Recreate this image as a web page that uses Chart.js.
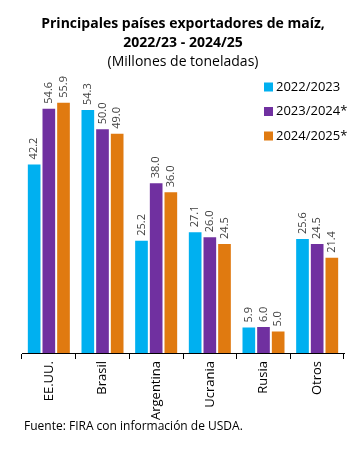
<!DOCTYPE html>
<html>
<head>
<meta charset="utf-8">
<script src="https://cdn.jsdelivr.net/npm/chart.js@4/dist/chart.umd.min.js"></script>
<style>
  html, body { margin: 0; padding: 0; background: #fff; }
  #wrap { position: relative; width: 350px; height: 449px; }
</style>
</head>
<body>
<div id="wrap"><canvas id="chart"></canvas></div>
<script>
const categories = ['EE.UU.', 'Brasil', 'Argentina', 'Ucrania', 'Rusia', 'Otros'];
const seriesNames = ['2022/2023', '2023/2024*', '2024/2025*'];
const values2223 = [42.2, 54.3, 25.2, 27.1, 5.9, 25.6];
const values2324 = [54.6, 50.0, 38.0, 26.0, 6.0, 24.5];
const values2425 = [55.9, 49.0, 36.0, 24.5, 5.0, 21.4];
const colors = ['#00B0F0', '#7030A0', '#E07A10'];
const FONT = "'Open Sans', 'Noto Sans', sans-serif";

// rotated value labels above each bar
const barLabels = {
  id: 'barLabels',
  afterDatasetsDraw(chart) {
    const ctx = chart.ctx;
    ctx.save();
    ctx.font = '11px ' + FONT;
    ctx.fillStyle = '#404040';
    ctx.textAlign = 'left';
    ctx.textBaseline = 'middle';
    chart.data.datasets.forEach((ds, i) => {
      chart.getDatasetMeta(i).data.forEach((bar, j) => {
        ctx.save();
        ctx.translate(bar.x, bar.y - 4);
        ctx.rotate(-Math.PI / 2);
        ctx.fillText(ds.data[j].toFixed(1), 0, 0);
        ctx.restore();
      });
    });
    ctx.restore();
  }
};

// legend on the right + footnote
const extras = {
  id: 'extras',
  afterDraw(chart) {
    const ctx = chart.ctx;
    ctx.save();
    ctx.font = '13px ' + FONT;
    ctx.textBaseline = 'middle';
    ctx.textAlign = 'left';
    seriesNames.forEach((name, i) => {
      const y = 87 + i * 24.5;
      ctx.fillStyle = colors[i];
      ctx.fillRect(264, y - 4.5, 9, 9);
      ctx.fillStyle = '#000';
      ctx.fillText(name, 276, y);
    });
    ctx.font = '12px ' + FONT;
    ctx.fillText('Fuente: FIRA con información de USDA.', 24, 427);
    ctx.restore();
  }
};

new Chart(document.getElementById('chart'), {
  type: 'bar',
  data: {
    labels: categories,
    datasets: [
      { label: seriesNames[0], data: values2223, backgroundColor: colors[0] },
      { label: seriesNames[1], data: values2324, backgroundColor: colors[1] },
      { label: seriesNames[2], data: values2425, backgroundColor: colors[2] }
    ].map(d => Object.assign(d, {
      borderColor: '#ffffff', borderWidth: 1, borderSkipped: 'bottom',
      categoryPercentage: 0.82, barPercentage: 1.0
    }))
  },
  options: {
    responsive: true,
    maintainAspectRatio: false,
    animation: false,
    layout: { padding: { left: 22, right: 6, top: 0, bottom: 27 } },
    plugins: {
      legend: { display: false },
      tooltip: { enabled: false },
      title: {
        display: true,
        text: ['Principales países exportadores de maíz,', '2022/23 - 2024/25'],
        color: '#000',
        font: { family: FONT, size: 14, weight: 'bold', lineHeight: 1.4 },
        padding: { top: 14, bottom: 0 }
      },
      subtitle: {
        display: true,
        text: '(Millones de toneladas)',
        color: '#000',
        font: { family: FONT, size: 14, lineHeight: 1.3 },
        padding: { top: 0, bottom: 12 }
      }
    },
    scales: {
      x: {
        offset: true,
        grid: { display: true, drawOnChartArea: false, color: '#000', tickLength: 6, offset: true },
        border: { display: true, color: '#000', width: 1 },
        ticks: {
          color: '#000', font: { family: FONT, size: 13 },
          minRotation: 90, maxRotation: 90, padding: 2, autoSkip: false
        }
      },
      y: {
        display: false,
        min: 0,
        max: 60
      }
    }
  },
  plugins: [barLabels, extras]
});
</script>
</body>
</html>
